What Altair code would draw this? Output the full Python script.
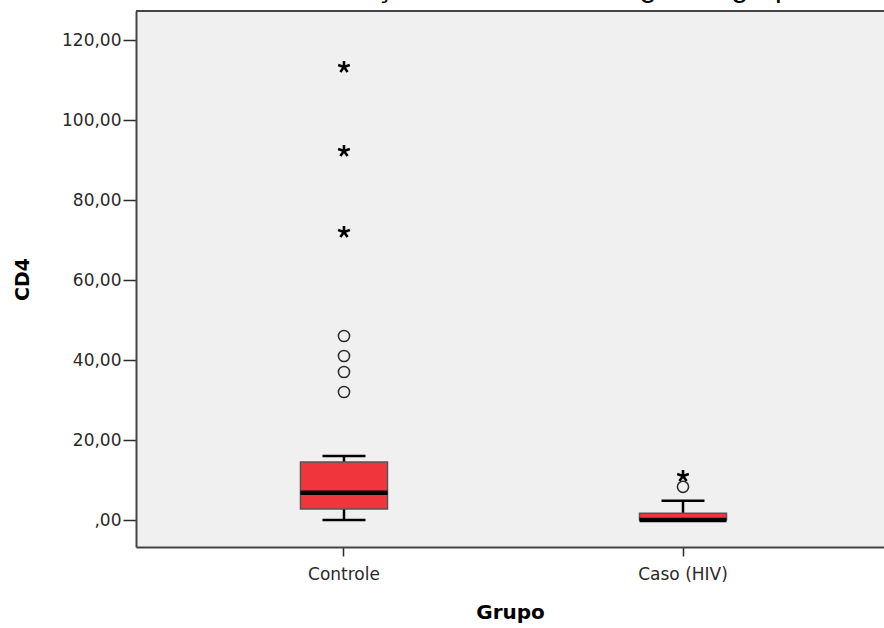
import altair as alt
import pandas as pd

# ---------------- data ----------------
TITLE = "Distribuição de CD4 total segundo grupo"
groups = ["Controle", "Caso (HIV)"]
whisker_low = [0.0, 0.0]
q1 = [2.75, 0.0]
median = [6.8, 0.0]
q3 = [14.5, 1.7]
whisker_high = [16.0, 4.8]

# outliers (circles) and extremes (stars)
outlier_group = ["Controle", "Controle", "Controle", "Controle", "Caso (HIV)"]
outlier_value = [32.0, 37.0, 41.0, 46.0, 8.3]
extreme_group = ["Controle", "Controle", "Controle", "Caso (HIV)"]
extreme_value = [72.0, 92.25, 113.25, 11.0]

y_ticks = [0, 20, 40, 60, 80, 100, 120]

# ---------------- tables ----------------
box = pd.DataFrame({"Grupo": groups, "lo": whisker_low, "q1": q1,
                    "med": median, "q3": q3, "hi": whisker_high})
outl = pd.DataFrame({"Grupo": outlier_group, "CD4": outlier_value})
extr = pd.DataFrame({"Grupo": extreme_group, "CD4": extreme_value})
title_df = pd.DataFrame({"t": [TITLE]})

# ---------------- layout ----------------
W, H = 748, 536
LEFT, TOP, BOTTOM = 136, 11, 81

x_scale = alt.Scale(domain=groups, paddingInner=0, paddingOuter=0.1032, align=0.55)
y_scale = alt.Scale(domain=[-6.75, 127.25], nice=False, zero=False)

x_axis = alt.Axis(title="Grupo", labelAngle=0, tickSize=9, labelPadding=10,
                  titlePadding=20, titleFontSize=20)
y_axis = alt.Axis(title="CD4", values=y_ticks, tickSize=13, labelPadding=2,
                  titlePadding=29, grid=False, titleFontSize=19,
                  labelExpr="datum.value == 0 ? ',00' : replace(format(datum.value, '.2f'), '.', ',')")


def X():
    return alt.X("Grupo:N", sort=groups, scale=x_scale, axis=x_axis)


def Y(field):
    return alt.Y(f"{field}:Q", scale=y_scale, axis=y_axis)


RED = "#F0353C"
DARK = "#2a2a2a"

whisk_low = alt.Chart(box).mark_rule(color="black", strokeWidth=2.5).encode(
    x=X(), y=Y("lo"), y2="q1")
whisk_high = alt.Chart(box).mark_rule(color="black", strokeWidth=2.5).encode(
    x=X(), y=Y("q3"), y2="hi")
cap_low = alt.Chart(box).mark_tick(color="black", size=43, thickness=2.5, opacity=1).encode(
    x=X(), y=Y("lo"))
cap_high = alt.Chart(box).mark_tick(color="black", size=43, thickness=2.5, opacity=1).encode(
    x=X(), y=Y("hi"))
bars = alt.Chart(box).mark_bar(size=87, color=RED, stroke="#555555", strokeWidth=1.5).encode(
    x=X(), y=Y("q1"), y2="q3")
med = alt.Chart(box).mark_tick(color="black", size=87, thickness=4.5, opacity=1).encode(
    x=X(), y=Y("med"))

circles = alt.Chart(outl).mark_point(shape="circle", filled=False, color=DARK,
                                     strokeWidth=1.5, size=125, opacity=1).encode(
    x=X(), y=Y("CD4"))

STAR = ("M0,0L0,-1M0,0L0.951,-0.309M0,0L0.588,0.809"
        "M0,0L-0.588,0.809M0,0L-0.951,-0.309")
stars = alt.Chart(extr).mark_point(shape=STAR, filled=False, color="black",
                                   strokeWidth=2.6, size=150, opacity=1).encode(
    x=X(), y=Y("CD4"))

top_frame = alt.Chart(title_df).mark_rule(color="#444444", strokeWidth=2).encode(
    x=alt.value(0), x2=alt.value(W), y=alt.value(0))

title_txt = alt.Chart(title_df).mark_text(
    align="left", baseline="alphabetic", font="Liberation Sans", fontSize=30,
    color="black").encode(
    text="t:N", x=alt.value(268 - LEFT), y=alt.value(-3 - TOP))

chart = alt.layer(
    whisk_low, whisk_high, cap_low, cap_high, bars, med, circles, stars,
    top_frame, title_txt
).properties(
    width=W, height=H,
    autosize=alt.AutoSizeParams(type="none"),
    padding={"left": LEFT, "top": TOP, "right": 0, "bottom": BOTTOM},
    background="white",
).configure_view(
    fill="#F0F0F0", stroke=None
).configure_axis(
    domainColor="#444444", domainWidth=2,
    tickColor=DARK, tickWidth=1.5,
    labelFont="DejaVu Sans", labelFontSize=17, labelColor=DARK,
    titleFont="DejaVu Sans", titleFontWeight="bold", titleFontSize=18,
    titleColor="black",
)

chart.save("out.html", embed_options={"renderer": "svg", "actions": False})
